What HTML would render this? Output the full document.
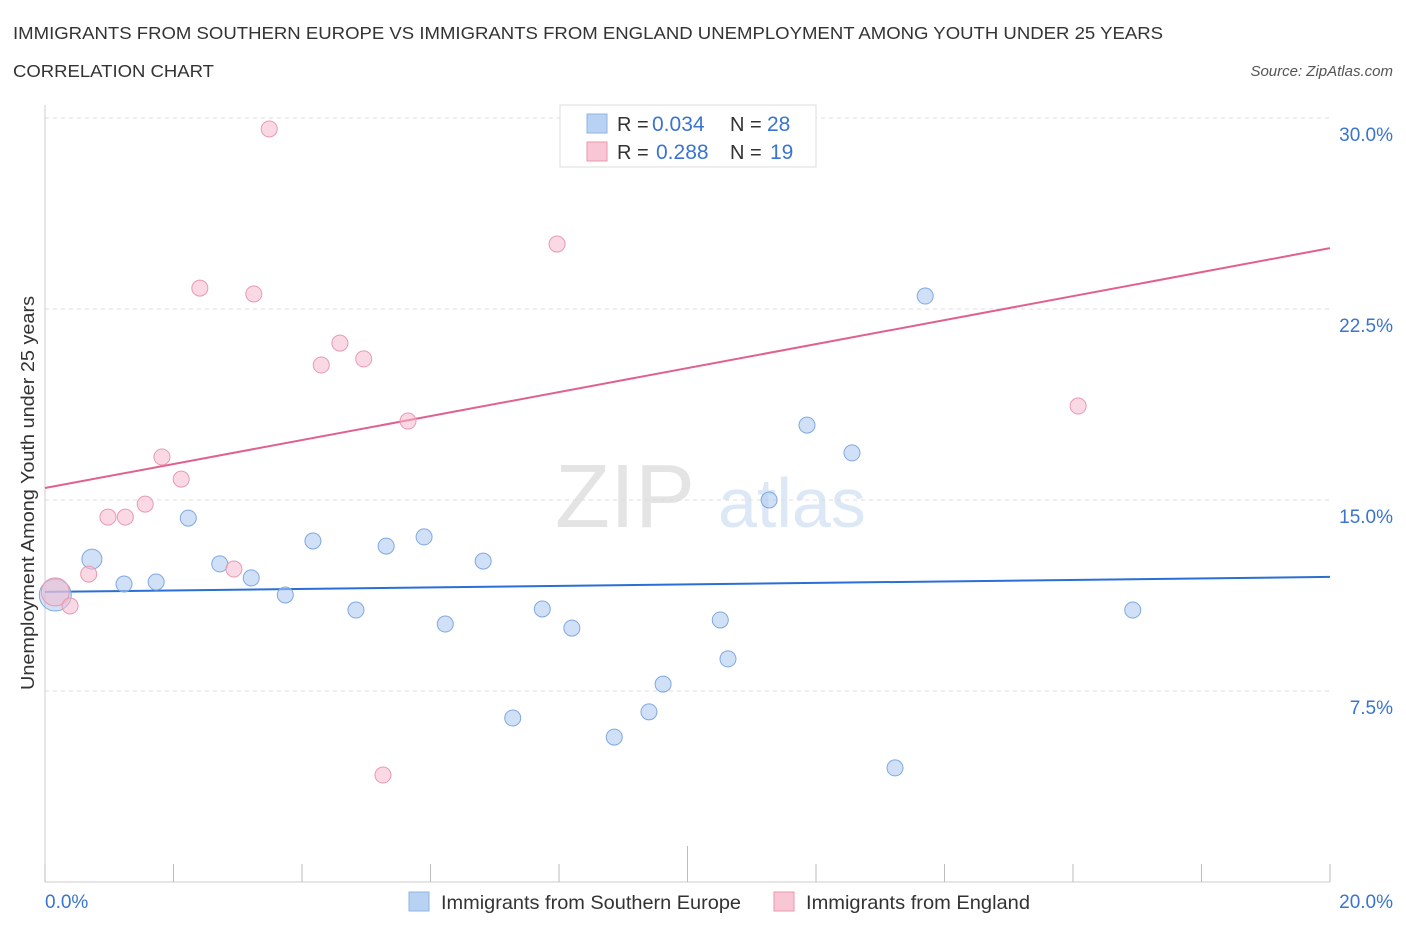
<!DOCTYPE html>
<html><head><meta charset="utf-8"><style>
body{margin:0;background:#fff;font-family:"Liberation Sans",sans-serif;}
svg text{font-family:"Liberation Sans",sans-serif;}
</style></head><body>
<svg id="chart" width="1406" height="930" xmlns="http://www.w3.org/2000/svg">
<text x="13" y="39" font-size="17.5" fill="#333" textLength="1150" lengthAdjust="spacingAndGlyphs">IMMIGRANTS FROM SOUTHERN EUROPE VS IMMIGRANTS FROM ENGLAND UNEMPLOYMENT AMONG YOUTH UNDER 25 YEARS</text>
<text x="13" y="77" font-size="17.5" fill="#333" textLength="201" lengthAdjust="spacingAndGlyphs">CORRELATION CHART</text>
<text x="1393" y="76" font-size="15" fill="#555" text-anchor="end" font-style="italic">Source: ZipAtlas.com</text>
<text x="555" y="527" font-size="90" fill="#e4e4e4" font-family="Liberation Serif">ZIP</text>
<text x="718" y="527" font-size="70" fill="#dde8f6">atlas</text>
<g id="grid"></g>
<line x1="45" y1="105" x2="45" y2="882" stroke="#ccc"/>
<line x1="45" y1="882" x2="1330" y2="882" stroke="#ccc"/>
<g id="ticks"></g>
<text transform="translate(34,493) rotate(-90)" font-size="18" fill="#333" text-anchor="middle" textLength="394" lengthAdjust="spacingAndGlyphs">Unemployment Among Youth under 25 years</text>
<text x="45" y="908" font-size="19" fill="#3a74d0">0.0%</text>
<text x="1393" y="908" font-size="19" fill="#3a74d0" text-anchor="end">20.0%</text>
<g id="lines"></g>
<g id="points"></g>
<g>
<rect x="560" y="105" width="256" height="62" fill="#fff" stroke="#ddd"/>
<rect x="587" y="114" width="20" height="19" fill="#b8d2f4" stroke="#8fb4e3"/>
<rect x="587" y="142" width="20" height="19" fill="#f9c6d5" stroke="#e89ab0"/>
<text x="617" y="131" font-size="20" fill="#333">R =</text>
<text x="652" y="131" font-size="21" fill="#3a74d0">0.034</text>
<text x="730" y="131" font-size="20" fill="#333">N =</text>
<text x="767" y="131" font-size="21" fill="#3a74d0">28</text>
<text x="617" y="159" font-size="20" fill="#333">R =</text>
<text x="656" y="159" font-size="21" fill="#3a74d0">0.288</text>
<text x="730" y="159" font-size="20" fill="#333">N =</text>
<text x="770" y="159" font-size="21" fill="#3a74d0">19</text>
</g>
<g>
<rect x="409" y="892" width="20" height="19" fill="#b8d2f4" stroke="#8fb4e3"/>
<text x="441" y="909" font-size="19.5" fill="#333" textLength="300" lengthAdjust="spacingAndGlyphs">Immigrants from Southern Europe</text>
<rect x="774" y="892" width="20" height="19" fill="#f9c6d5" stroke="#e89ab0"/>
<text x="806" y="909" font-size="19.5" fill="#333" textLength="224" lengthAdjust="spacingAndGlyphs">Immigrants from England</text>
</g>
</svg>
<script>
const yTicks=[7.5,15,22.5,30];
const yTickLabels=["7.5%","15.0%","22.5%","30.0%"];
const blueX=[0.73,0.16,1.23,1.73,2.23,2.72,3.21,3.74,4.17,4.84,5.31,5.90,6.23,6.82,7.28,7.74,8.20,8.86,9.40,9.62,10.51,10.63,11.27,11.86,12.56,13.23,13.70,16.93];
const blueY=[12.68,11.27,11.70,11.78,14.29,12.49,11.94,11.27,13.39,10.68,13.19,13.55,10.13,12.60,6.44,10.72,9.97,5.69,6.68,7.77,10.29,8.76,15.0,17.94,16.85,4.48,23.01,10.68];
const pinkX=[0.16,0.39,0.68,0.98,1.25,1.56,1.82,2.12,2.41,2.94,3.25,3.49,4.30,4.59,4.96,5.26,5.65,7.97,16.08];
const pinkY=[11.39,10.84,12.09,14.33,14.33,14.84,16.69,15.82,23.32,12.29,23.09,29.57,20.30,21.16,20.54,4.20,18.10,25.05,18.69];
const blueTrend=[11.39,11.98];
const pinkTrend=[15.47,24.89];
const NS="http://www.w3.org/2000/svg";
const xs=v=>45+v/20*1285, ys=v=>882-v/7.5*191;
function mk(t,a,p){const e=document.createElementNS(NS,t);for(const k in a)e.setAttribute(k,a[k]);p.appendChild(e);return e;}
const grid=document.getElementById('grid');
yTicks.forEach((t,i)=>{
 const l=mk('line',{x1:45,x2:1330,y1:ys(t),y2:ys(t),stroke:'#ddd','stroke-dasharray':'4,4'},grid);
 
 
 const tx=mk('text',{x:1393,y:ys(t)+23,'font-size':19,fill:'#3a74d0','text-anchor':'end'},grid);
 tx.textContent=yTickLabels[i];
 
 
});
const ticks=document.getElementById('ticks');
for(let i=0;i<=10;i++){
 const l=mk('line',{x1:xs(i*2),x2:xs(i*2),y1:i==5?846:864,y2:882,stroke:'#bbb'},ticks);
 
 
}
const lines=document.getElementById('lines');
const bl=mk('line',{x1:xs(0),y1:ys(blueTrend[0]),x2:xs(20),y2:ys(blueTrend[1]),stroke:'#2a6fd4','stroke-width':2},lines);


const pl=mk('line',{x1:xs(0),y1:ys(pinkTrend[0]),x2:xs(20),y2:ys(pinkTrend[1]),stroke:'#e06090','stroke-width':2},lines);


const pts=document.getElementById('points');
blueX.forEach((x,i)=>{
 const c=mk('circle',{cx:xs(x),cy:ys(blueY[i]),r:i==1?16:(i==0?10:8),fill:'rgba(170,200,240,0.55)',stroke:'#7fa8e0','stroke-width':1},pts);
 
 
});
pinkX.forEach((x,i)=>{
 const c=mk('circle',{cx:xs(x),cy:ys(pinkY[i]),r:i==0?14:8,fill:'rgba(245,185,205,0.55)',stroke:'#e89ab0','stroke-width':1},pts);
 
 
});
</script>
</body></html>
